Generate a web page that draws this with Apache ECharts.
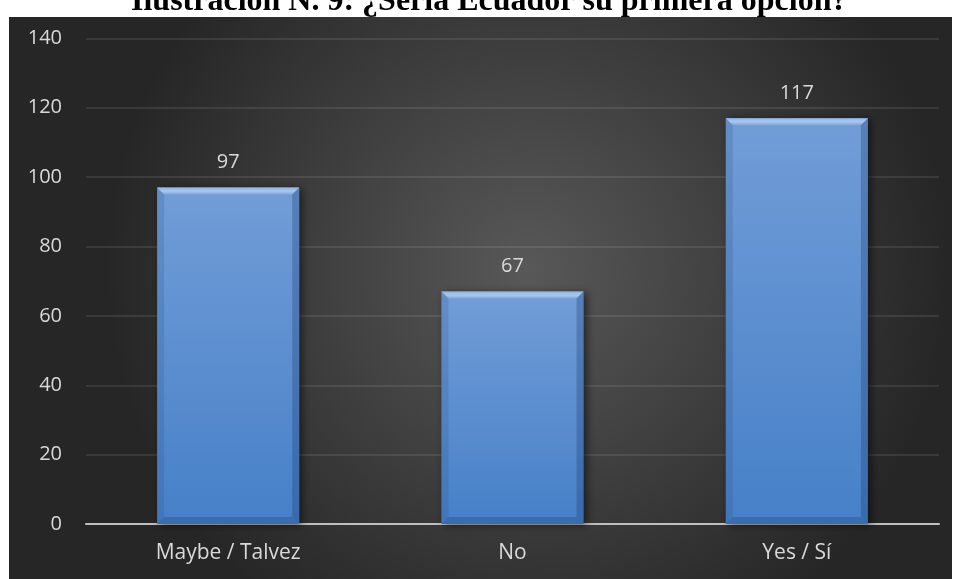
<!DOCTYPE html>
<html>
<head>
<meta charset="utf-8">
<script src="https://cdn.jsdelivr.net/npm/echarts@6/dist/echarts.min.js"></script>
<style>
  html, body { margin: 0; padding: 0; background: #ffffff; }
  #chart { width: 961px; height: 579px; }
</style>
</head>
<body>
<div id="chart"></div>
<script>
// Survey answers and counts
const categories = ['Maybe / Talvez', 'No', 'Yes / Sí'];
const counts = [97, 67, 117];
const titleText = 'Ilustración N. 9: ¿Sería Ecuador su primera opción?';

const chart = echarts.init(document.getElementById('chart'));

const labelFont = '"Open Sans", "Noto Sans", sans-serif';

// Bevelled bar drawn from the axis scales
function renderBevelBar(params, api) {
  const idx = api.value(0);
  const val = api.value(1);
  const top = api.coord([idx, val]);
  const base = api.coord([idx, 0]);
  const band = api.size([1, 0])[0];
  const w = band * 0.5;
  const x0 = top[0] - w / 2, x1 = top[0] + w / 2;
  const y0 = top[1], y1 = base[1];
  const b = 7;
  return {
    type: 'group',
    children: [
      {
        type: 'rect',
        shape: { x: x0, y: y0, width: w, height: y1 - y0 },
        style: {
          fill: new echarts.graphic.LinearGradient(0, 0, 0, 1, [
            { offset: 0, color: '#729dd7' },
            { offset: 1, color: '#4680c8' }
          ]),
          shadowBlur: 8,
          shadowOffsetX: 3,
          shadowOffsetY: 1,
          shadowColor: 'rgba(0,0,0,0.55)'
        }
      },
      { // top bevel
        type: 'polygon',
        shape: { points: [[x0, y0], [x1, y0], [x1 - b, y0 + b], [x0 + b, y0 + b]] },
        style: {
          fill: new echarts.graphic.LinearGradient(0, 0, 0, 1, [
            { offset: 0, color: '#8fb4e6' },
            { offset: 0.5, color: '#a9c8f0' },
            { offset: 1, color: '#7ea6dc' }
          ])
        }
      },
      { // left bevel
        type: 'polygon',
        shape: { points: [[x0, y0], [x0 + b, y0 + b], [x0 + b, y1 - b], [x0, y1]] },
        style: { fill: 'rgba(40,70,120,0.18)' }
      },
      { // right bevel
        type: 'polygon',
        shape: { points: [[x1, y0], [x1, y1], [x1 - b, y1 - b], [x1 - b, y0 + b]] },
        style: { fill: 'rgba(20,50,100,0.28)' }
      },
      { // bottom bevel
        type: 'polygon',
        shape: { points: [[x0, y1], [x1, y1], [x1 - b, y1 - b], [x0 + b, y1 - b]] },
        style: { fill: 'rgba(20,50,100,0.25)' }
      },
      { // value label
        type: 'text',
        style: {
          text: String(val),
          x: top[0],
          y: y0 - 15,
          align: 'center',
          verticalAlign: 'bottom',
          fill: '#d9d9d9',
          font: '20px ' + labelFont
        }
      }
    ]
  };
}

const option = {
  animation: false,
  backgroundColor: 'transparent',
  graphic: [
    {
      type: 'rect',
      z: -10,
      silent: true,
      shape: { x: 9, y: 17, width: 943, height: 562 },
      style: {
        fill: new echarts.graphic.RadialGradient(0.55, 0.45, 0.75, [
          { offset: 0, color: '#585858' },
          { offset: 1, color: '#262626' }
        ])
      }
    }
  ],
  title: {
    text: titleText,
    left: 126,
    top: -19,
    textStyle: {
      fontFamily: '"Liberation Serif", "Times New Roman", serif',
      fontWeight: 'bold',
      fontSize: 32,
      color: '#000000'
    }
  },
  grid: { left: 86, right: 22, top: 38.4, bottom: 55, containLabel: false },
  xAxis: {
    type: 'category',
    data: categories,
    axisTick: { show: false },
    axisLine: { lineStyle: { color: '#bfbfbf', width: 2 } },
    axisLabel: {
      color: '#d9d9d9',
      fontSize: 21,
      fontFamily: labelFont,
      margin: 19
    }
  },
  yAxis: {
    type: 'value',
    min: 0,
    max: 140,
    interval: 20,
    axisLine: { show: false },
    axisTick: { show: false },
    axisLabel: {
      color: '#d9d9d9',
      fontSize: 20,
      fontFamily: labelFont,
      margin: 24
    },
    splitLine: { lineStyle: { color: 'rgba(255,255,255,0.12)', width: 1.5 } }
  },
  series: [
    {
      type: 'custom',
      renderItem: renderBevelBar,
      encode: { x: 0, y: 1 },
      data: counts.map((v, i) => [i, v])
    }
  ]
};

chart.setOption(option);
</script>
</body>
</html>
